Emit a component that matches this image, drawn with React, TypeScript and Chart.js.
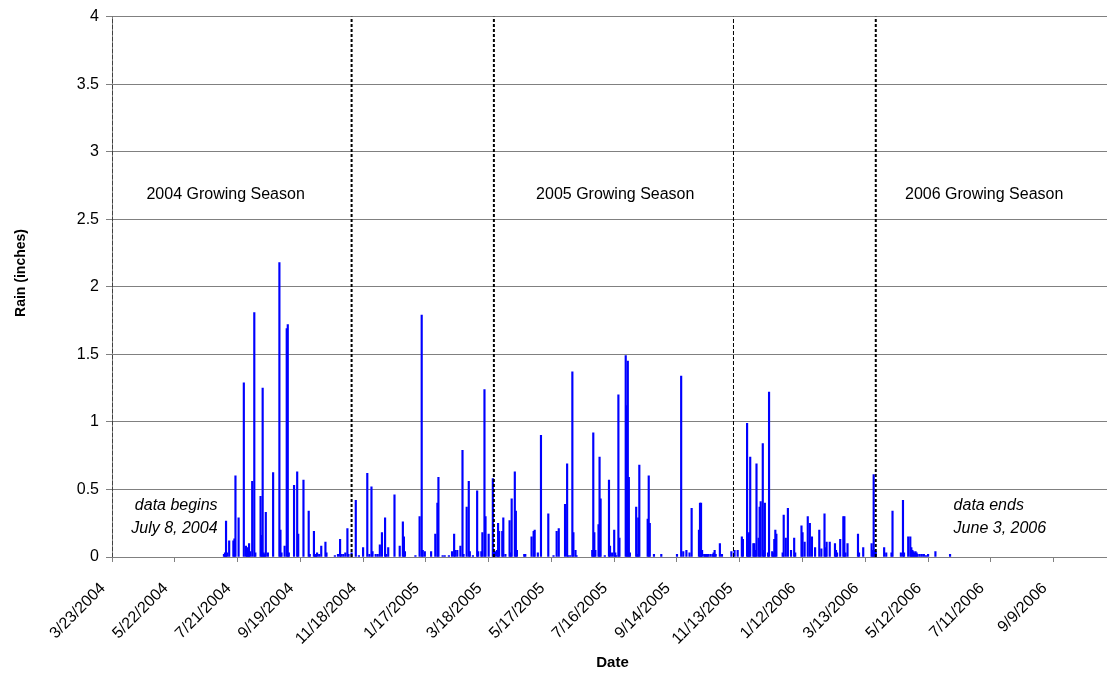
import React, { useEffect, useRef } from "react";
import { Chart, registerables } from "chart.js";

Chart.register(...registerables);

// Day offsets counted from 3/23/2004 (day 0)
const rainDays = [
  107, 108, 109, 110, 112, 116, 117, 118, 121, 126, 128, 129, 130, 131, 132, 134, 136, 137, 142, 143,
  144, 145, 146, 147, 149, 154, 160, 161, 162, 165, 167, 168, 169, 174, 177, 178, 183, 188, 189, 193,
  194, 195, 196, 198, 200, 204, 205, 213, 216, 218, 219, 221, 223, 225, 226, 229, 233, 236, 240, 244,
  246, 248, 249, 252, 254, 256, 258, 261, 262, 264, 270, 275, 278, 279, 280, 290, 294, 296, 297, 299,
  305, 309, 311, 312, 316, 318, 322, 325, 327, 328, 330, 333, 335, 336, 339, 341, 342, 345, 349, 350,
  353, 354, 356, 357, 360, 364, 365, 366, 368, 369, 370, 373, 374, 376, 380, 381, 382, 385, 386, 387,
  394, 395, 401, 403, 404, 407, 410, 417, 422, 425, 427, 433, 435, 436, 438, 440, 441, 443, 444, 459,
  460, 461, 462, 465, 466, 467, 471, 475, 476, 478, 480, 481, 482, 484, 485, 491, 492, 493, 494, 495,
  501, 502, 503, 504, 512, 513, 514, 518, 525, 540, 544, 546, 549, 552, 554, 561, 562, 563, 564, 566,
  567, 568, 569, 570, 572, 574, 575, 576, 577, 581, 583, 592, 595, 598, 602, 603, 607, 608, 609, 610,
  613, 614, 615, 616, 618, 619, 620, 622, 623, 624, 627, 628, 631, 632, 633, 634, 635, 641, 642, 644,
  646, 649, 652, 653, 659, 660, 662, 665, 667, 669, 672, 676, 678, 681, 682, 683, 686, 691, 692, 693,
  696, 699, 700, 701, 703, 713, 714, 718, 726, 727, 728, 729, 730, 738, 740, 745, 746, 754, 756, 757,
  761, 763, 764, 765, 766, 767, 768, 769, 770, 772, 774, 776, 778, 780, 787, 801,
];

const rainValues = [
  0.02, 0.03, 0.265, 0.03, 0.12, 0.12, 0.135, 0.6, 0.29, 1.29, 0.08, 0.04, 0.07, 0.1, 0.04, 0.56, 1.81, 0.03, 0.45, 0.16,
  1.25, 0.03, 0.02, 0.33, 0.03, 0.625, 2.18, 0.2, 0.03, 0.08, 1.69, 1.72, 0.03, 0.53, 0.63, 0.17, 0.57, 0.34, 0.02, 0.19,
  0.02, 0.02, 0.03, 0.02, 0.08, 0.11, 0.03, 0.01, 0.02, 0.13, 0.02, 0.02, 0.03, 0.21, 0.02, 0.03, 0.42, 0.01, 0.07, 0.62,
  0.02, 0.52, 0.04, 0.02, 0.02, 0.09, 0.18, 0.29, 0.02, 0.07, 0.46, 0.08, 0.26, 0.15, 0.04, 0.01, 0.3, 1.79, 0.05, 0.04,
  0.04, 0.17, 0.4, 0.59, 0.01, 0.01, 0.01, 0.04, 0.17, 0.05, 0.05, 0.08, 0.79, 0.02, 0.37, 0.56, 0.04, 0.01, 0.49, 0.04,
  0.04, 0.18, 1.24, 0.3, 0.17, 0.58, 0.04, 0.04, 0.05, 0.25, 0.19, 0.19, 0.29, 0.02, 0.27, 0.03, 0.43, 0.63, 0.34, 0.05,
  0.02, 0.02, 0.15, 0.19, 0.2, 0.03, 0.9, 0.32, 0.01, 0.19, 0.21, 0.39, 0.69, 0.01, 0.01, 1.37, 0.18, 0.05, 0.01, 0.05,
  0.92, 0.18, 0.05, 0.24, 0.74, 0.43, 0.01, 0.57, 0.08, 0.03, 0.2, 0.03, 0.01, 1.2, 0.14, 1.49, 1.12, 1.45, 0.59, 0.03,
  0.37, 0.02, 0.29, 0.68, 0.28, 0.6, 0.25, 0.02, 0.02, 0.02, 1.34, 0.04, 0.05, 0.03, 0.36, 0.2, 0.4, 0.4, 0.05, 0.02,
  0.02, 0.02, 0.02, 0.02, 0.02, 0.02, 0.03, 0.05, 0.02, 0.1, 0.02, 0.04, 0.05, 0.05, 0.15, 0.13, 0.99, 0.17, 0.18, 0.74,
  0.1, 0.1, 0.05, 0.69, 0.14, 0.37, 0.41, 0.84, 0.05, 0.4, 0.03, 1.22, 0.04, 0.03, 0.13, 0.2, 0.17, 0.03, 0.31, 0.14,
  0.36, 0.05, 0.14, 0.03, 0.23, 0.18, 0.11, 0.3, 0.25, 0.15, 0.07, 0.2, 0.06, 0.32, 0.07, 0.11, 0.11, 0.1, 0.05, 0.03,
  0.13, 0.3, 0.3, 0.03, 0.1, 0.17, 0.03, 0.07, 0.1, 0.05, 0.61, 0.05, 0.04, 0.07, 0.03, 0.03, 0.34, 0.03, 0.42, 0.03,
  0.15, 0.15, 0.07, 0.05, 0.04, 0.03, 0.04, 0.03, 0.02, 0.02, 0.02, 0.02, 0.01, 0.02, 0.04, 0.02,
];

// Season boundary markers (day offsets) and whether each is drawn heavy
const seasonBoundaryDays = [0, 229, 365, 594, 730];
const seasonBoundaryHeavy = [false, true, true, false, true];

const xTickDays = [0, 60, 120, 180, 240, 300, 360, 420, 480, 540, 600, 660, 720, 780, 840, 900];
const xTickLabels = [
  "3/23/2004", "5/22/2004", "7/21/2004", "9/19/2004", "11/18/2004", "1/17/2005", "3/18/2005", "5/17/2005",
  "7/16/2005", "9/14/2005", "11/13/2005", "1/12/2006", "3/13/2006", "5/12/2006", "7/11/2006", "9/9/2006",
];

const yTickValues = [0, 0.5, 1, 1.5, 2, 2.5, 3, 3.5, 4];
const yTickLabels = ["0", "0.5", "1", "1.5", "2", "2.5", "3", "3.5", "4"];

const seasonLabels = ["2004 Growing Season", "2005 Growing Season", "2006 Growing Season"];
const dataBeginsLines = ["data begins", "July 8, 2004"];
const dataEndsLines = ["data ends", "June 3, 2006"];

const FONT = "'Liberation Sans', Arial, Helvetica, sans-serif";

const textPlugin = {
  id: "chartText",
  afterDatasetsDraw(chart: any) {
    const ctx = chart.ctx;
    const xs = chart.scales.x;
    const ys = chart.scales.y;
    const area = chart.chartArea;
    ctx.save();
    ctx.fillStyle = "#000";
    ctx.textBaseline = "middle";

    // Growing season labels
    ctx.font = `16px ${FONT}`;
    ctx.textAlign = "center";
    const seasonCenters = [108.6, 481, 833.6];
    seasonLabels.forEach((t, i) => {
      ctx.fillText(t, xs.getPixelForValue(seasonCenters[i]), ys.getPixelForValue(2.685));
    });

    // data begins / ends notes
    ctx.font = `italic 16px ${FONT}`;
    const noteY = [0.382, 0.21];
    ctx.textAlign = "right";
    dataBeginsLines.forEach((t, i) => {
      ctx.fillText(t, xs.getPixelForValue(100.9), ys.getPixelForValue(noteY[i]));
    });
    ctx.textAlign = "left";
    dataEndsLines.forEach((t, i) => {
      ctx.fillText(t, xs.getPixelForValue(804.4), ys.getPixelForValue(noteY[i]));
    });

    // Axis titles
    ctx.font = `bold 14px ${FONT}`;
    ctx.textAlign = "center";
    ctx.save();
    ctx.translate(21, 273);
    ctx.rotate(-Math.PI / 2);
    ctx.fillText("Rain (inches)", 0, 0);
    ctx.restore();

    ctx.font = `bold 15px ${FONT}`;
    ctx.fillText("Date", (area.left + area.right) / 2 + 3, 663);
    ctx.restore();
  },
};

export default function App() {
  const canvasRef = useRef<HTMLCanvasElement | null>(null);

  useEffect(() => {
    if (!canvasRef.current) return;
    const barData = rainDays.map((d, i) => ({ x: d, y: rainValues[i] }));
    const lineSets = seasonBoundaryDays.map((d, i) => ({
      type: "line" as const,
      data: [
        { x: d, y: 0 },
        { x: d, y: 4 },
      ],
      borderColor: "#000000",
      borderWidth: seasonBoundaryHeavy[i] ? 2 : 1,
      borderDash: seasonBoundaryHeavy[i] ? [3, 2] : [4, 2],
      pointRadius: 0,
      fill: false,
      order: 0,
    }));

    const chart = new Chart(canvasRef.current, {
      type: "bar",
      data: {
        datasets: [
          {
            type: "bar" as const,
            data: barData,
            backgroundColor: "#0000FF",
            borderWidth: 0,
            barThickness: 1.5,
            order: 1,
          } as any,
          ...lineSets,
        ],
      },
      options: {
        animation: false,
        responsive: false,
        layout: { padding: { top: 13, right: 0, left: 0, bottom: 0 } },
        plugins: {
          legend: { display: false },
          tooltip: { enabled: false },
        },
        scales: {
          x: {
            type: "linear",
            min: 0,
            max: 951,
            offset: false,
            afterBuildTicks: (scale: any) => {
              scale.ticks = xTickDays.map((v) => ({ value: v }));
            },
            afterFit: (scale: any) => {
              scale.height = 116;
            },
            ticks: {
              autoSkip: false,
              maxRotation: 45,
              minRotation: 45,
              color: "#000",
              font: { family: FONT, size: 16 },
              padding: 17,
              labelOffset: -9,
              callback: (value: any) => {
                const idx = xTickDays.indexOf(Number(value));
                return idx >= 0 ? xTickLabels[idx] : "";
              },
            },
            grid: {
              display: true,
              drawOnChartArea: false,
              drawTicks: true,
              tickLength: 5,
              color: "#808080",
              offset: false,
            },
            border: { display: true, color: "#808080", width: 1 },
          },
          y: {
            type: "linear",
            min: 0,
            max: 4,
            afterBuildTicks: (scale: any) => {
              scale.ticks = yTickValues.map((v) => ({ value: v }));
            },
            afterFit: (scale: any) => {
              scale.width = 112;
            },
            ticks: {
              color: "#000",
              font: { family: FONT, size: 16 },
              padding: 7,
              callback: (value: any) => {
                const idx = yTickValues.indexOf(Number(value));
                return idx >= 0 ? yTickLabels[idx] : "";
              },
            },
            grid: {
              color: "#808080",
              lineWidth: 1,
              tickLength: 6,
            },
            border: { display: true, color: "#808080", width: 1 },
          },
        },
      },
      plugins: [textPlugin],
    } as any);

    return () => chart.destroy();
  }, []);

  return (
    <div style={{ position: "fixed", left: 0, top: 0, width: 1107, height: 673, background: "#fff" }}>
      <canvas ref={canvasRef} width={1107} height={673} style={{ width: 1107, height: 673, display: "block" }} />
    </div>
  );
}
